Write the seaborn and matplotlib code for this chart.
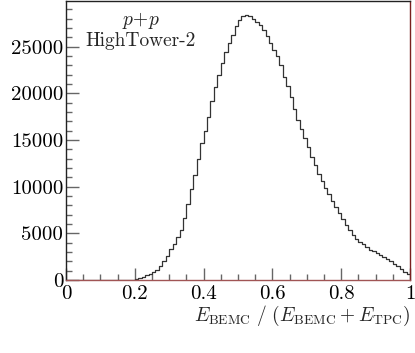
import numpy as np
import pandas as pd
import seaborn as sns
from matplotlib import pyplot as plt
from matplotlib.ticker import MultipleLocator

# bin edges: 100 bins between 0 and 1
bin_edges = np.linspace(0, 1, 101)
bin_centers = (bin_edges[:-1] + bin_edges[1:]) / 2

# counts per bin
counts = [
    0, 0, 0, 0, 0, 0, 0, 0, 0, 0,
    0, 0, 0, 0, 0, 0, 0, 0, 0, 30,
    100, 200, 330, 480, 650, 850, 1100, 1450, 2000, 2600,
    3300, 3900, 4600, 5300, 6600, 8100, 9700, 11300, 13000, 14700,
    16000, 17500, 19200, 20700, 22000, 23300, 24400, 25400, 26300, 27200,
    27900, 28300, 28450, 28300, 28000, 27700, 27300, 26800, 26200, 25400,
    24700, 24000, 23000, 21800, 20800, 19600, 18300, 17200, 16200, 15200,
    14200, 13200, 12300, 11400, 10600, 9900, 9200, 8500, 7800, 7200,
    6500, 5900, 5300, 4800, 4400, 4100, 3800, 3500, 3250, 3050,
    2850, 2650, 2450, 2250, 2000, 1750, 1500, 1200, 900, 600,
]

x_label = r'$E_{\rm BEMC}\ /\ (E_{\rm BEMC} + E_{\rm TPC})$'
labels = [r'$p\!+\!p$', 'HighTower-2']

sns.set_style('white')
plt.rcParams['font.family'] = ['cmr10', 'DejaVu Serif']
plt.rcParams['mathtext.fontset'] = 'cm'
plt.rcParams['axes.formatter.use_mathtext'] = True

df = pd.DataFrame({'frac': bin_centers, 'counts': counts})

fig = plt.figure(figsize=(4.15, 3.53), dpi=100)
ax = fig.add_axes([0.159, 0.207, 0.829, 0.79])

sns.histplot(data=df, x='frac', weights='counts', bins=list(bin_edges), element='step',
             fill=False, color='#333333', linewidth=0.9, ax=ax)

ax.set_xlim(0, 1)
ax.set_ylim(0, 29900)
ax.xaxis.set_major_locator(MultipleLocator(0.2))
ax.xaxis.set_minor_locator(MultipleLocator(0.05))
ax.yaxis.set_major_locator(MultipleLocator(5000))
ax.yaxis.set_minor_locator(MultipleLocator(1000))
ax.xaxis.set_major_formatter(lambda v, pos: f'{v:g}')
ax.yaxis.set_major_formatter(lambda v, pos: f'{v:.0f}')

ax.tick_params(which='both', direction='in', colors='#666666', labelcolor='black',
               labelsize=15, width=1)
ax.tick_params(which='major', length=9, pad=4)
ax.tick_params(which='minor', length=4)
ax.tick_params(axis='y', which='both', left=True, pad=2)
ax.tick_params(axis='x', which='both', bottom=True)

for side in ['left', 'top']:
    ax.spines[side].set_color('#222222')
ax.spines['bottom'].set_color('#a05555')
ax.spines['right'].set_color('#7a1f1f')
for s in ax.spines.values():
    s.set_linewidth(1.0)

ax.set_ylabel('')
ax.set_xlabel(x_label, fontsize=14, loc='right', labelpad=0)

ax.text(0.218, 0.93, labels[0], transform=ax.transAxes, ha='center', va='center', fontsize=14)
ax.text(0.218, 0.855, labels[1], transform=ax.transAxes, ha='center', va='center', fontsize=14)

fig.savefig('out.png', dpi=100)
